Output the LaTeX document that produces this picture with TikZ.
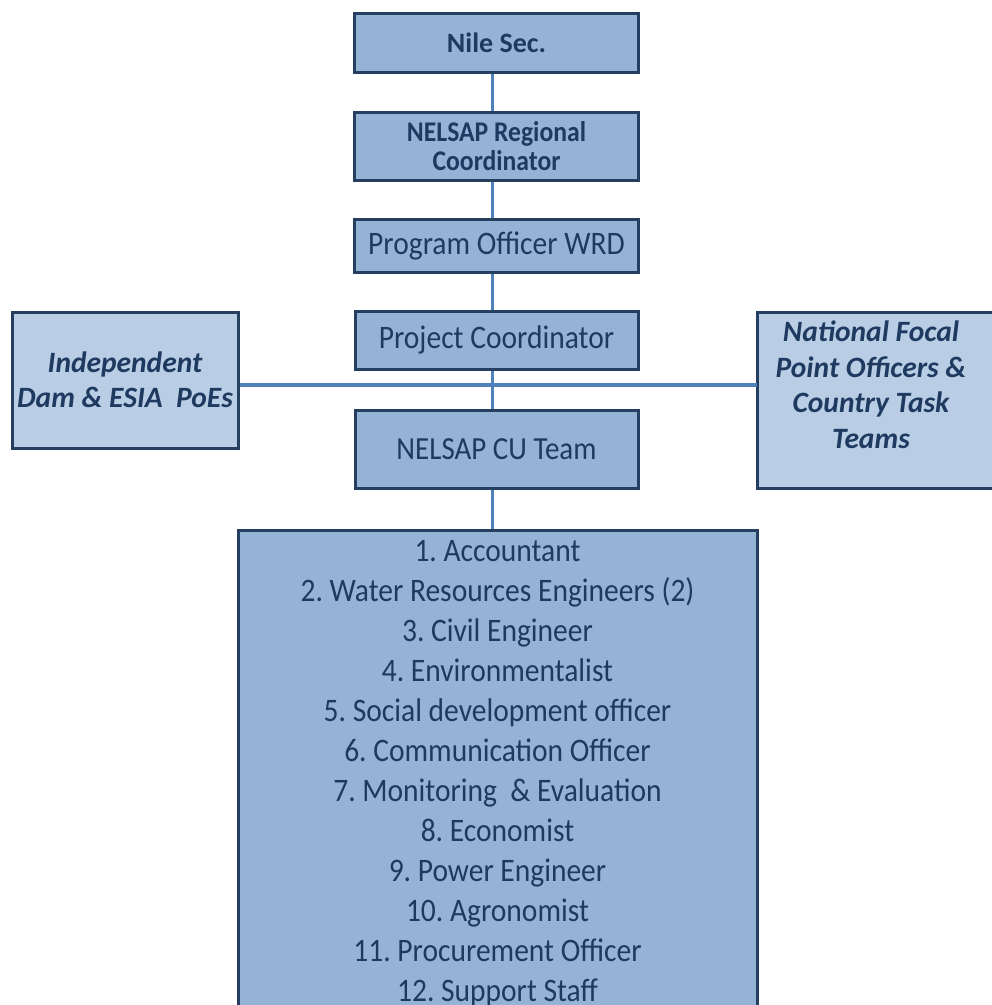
\documentclass[tikz,border=0pt]{standalone}
\usepackage{fontspec}
\setmainfont{Carlito}
\newfontfamily\condfont[FakeStretch=0.9]{Carlito}
\usetikzlibrary{backgrounds}
\frenchspacing
\definecolor{mainfill}{HTML}{95B3D7}
\definecolor{sidefill}{HTML}{B9CDE5}
\definecolor{boxline}{HTML}{243F60}
\definecolor{linkline}{HTML}{4F81BD}
\definecolor{txt}{HTML}{1F3A60}
\tikzset{
  orgbox/.style={draw=boxline, line width=3pt, fill=mainfill, text=txt, align=center, inner sep=0pt, rectangle},
  sidefont/.style={font=\frenchspacing\bfseries\itshape\fontsize{29.5}{35.5}\selectfont},
  sidebox/.style={orgbox, fill=sidefill, sidefont},
  regular/.style={font=\frenchspacing\condfont\fontsize{32.8}{38}\selectfont},
  link/.style={draw=linkline, line width=3.4pt}
}
\begin{document}
\begin{tikzpicture}[x=1pt,y=-1pt]
\useasboundingbox (0,0) rectangle (992,1005);
\clip (0,0) rectangle (992,1005);
\coordinate (vx) at (492.7,0);
\coordinate (hj) at (492.7,385);
\coordinate (natlNW) at (757,312);
\coordinate (natlSE) at (1000,488);
\node[orgbox, minimum width=284, minimum height=59, font=\bfseries\fontsize{28}{32}\selectfont] (nile) at (496.5,42.5) {Nile Sec.};
\node[orgbox, minimum width=284, minimum height=68, font=\condfont\bfseries\fontsize{28.5}{29.5}\selectfont] (reg) at (496.5,146) {NELSAP Regional\\Coordinator};
\node[orgbox, minimum width=284, minimum height=53, regular] (prog) at (496.5,245.5) {Program Officer WRD};
\node[orgbox, minimum width=283, minimum height=58, regular] (proj) at (496.5,340) {Project Coordinator};
\node[orgbox, minimum width=283, minimum height=78, font=\condfont\fontsize{32.2}{38}\selectfont] (cu) at (496.5,449) {NELSAP CU Team};
\node[sidebox, minimum width=226, minimum height=136] (indep) at (125,380) {Independent\\Dam \& ESIA\ \ PoEs};
\node[text=txt, align=center, inner sep=0pt, sidefont] (natl) at (871,384.5) {National Focal\\Point Officers \&\\Country Task\\Teams};
\begin{pgfonlayer}{background}
\draw[draw=boxline, line width=3pt, fill=sidefill] (natlNW) rectangle (natlSE);
\end{pgfonlayer}
\node[orgbox, anchor=north, minimum width=519, inner ysep=10pt, font=\condfont\fontsize{32.8}{40}\selectfont] (team) at (497.5,529) {1. Accountant\\2. Water Resources Engineers (2)\\3. Civil Engineer\\4. Environmentalist\\5. Social development officer\\6. Communication Officer\\7. Monitoring\ \ \& Evaluation\\8. Economist\\9. Power Engineer\\10. Agronomist\\11. Procurement Officer\\12. Support Staff};
\draw[link] (nile.south -| vx) -- (reg.north -| vx);
\draw[link] (reg.south -| vx) -- (prog.north -| vx);
\draw[link] (prog.south -| vx) -- (proj.north -| vx);
\draw[link] (proj.south -| vx) -- (cu.north -| vx);
\draw[link] (cu.south -| vx) -- (team.north -| vx);
\draw[link] (indep.east |- hj) -- (natlNW |- hj);
\end{tikzpicture}
\end{document}
